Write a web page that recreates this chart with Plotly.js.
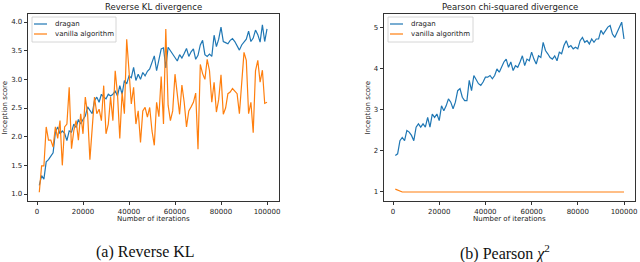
<!DOCTYPE html>
<html><head><meta charset="utf-8">
<script src="https://cdn.plot.ly/plotly-3.0.1.min.js"></script>
<style>html,body{margin:0;padding:0;background:#fff}#chart{width:640px;height:262px}</style>
</head><body><div id="chart"></div>
<script>
const iterations = Array.from({length: 100}, (_, i) => (i + 1) * 1000);
const seriesNames = ['dragan', 'vanilla algorithm'];
const klDragan = [1.15,1.32,1.26,1.56,1.60,1.66,1.72,2.08,2.17,2.05,
 2.10,2.06,1.93,2.10,2.08,2.22,2.16,2.30,2.22,2.30,
 2.36,2.52,2.45,2.40,2.63,2.69,2.60,2.74,2.69,2.66,
 2.74,2.71,2.74,2.80,2.71,2.89,2.74,2.98,2.92,3.06,
 3.03,3.21,2.98,3.09,3.00,3.12,3.06,3.14,3.18,3.30,
 3.41,3.15,3.35,3.53,3.55,3.20,3.56,3.50,3.45,3.38,
 3.32,3.43,3.37,3.45,3.54,3.40,3.48,3.53,3.35,3.42,
 3.60,3.68,3.43,3.40,3.44,3.40,3.77,3.57,3.70,3.91,
 3.66,3.64,3.62,3.68,3.71,3.66,3.58,3.51,3.60,3.66,
 3.70,3.84,3.66,3.72,3.86,3.78,3.65,3.95,3.66,3.88];
const klVanilla = [1.03,1.49,1.49,2.17,1.94,1.94,1.82,2.17,1.97,2.28,
 1.50,2.17,2.22,2.86,1.79,2.10,2.28,1.94,2.40,2.05,
 2.69,2.40,1.60,2.17,2.69,2.40,2.48,2.28,2.89,2.05,
 2.22,2.69,2.28,3.15,2.74,1.97,2.77,2.40,3.70,3.15,
 2.57,2.86,2.22,2.45,1.90,2.45,2.51,2.34,2.51,2.10,
 1.85,2.60,2.35,3.05,2.22,3.88,2.55,2.28,2.45,3.09,
 2.70,2.39,2.90,2.60,2.17,2.45,2.52,2.60,2.76,1.78,
 3.26,3.10,3.00,3.35,3.15,2.60,2.95,2.43,2.65,3.08,
 2.39,2.50,2.75,2.78,2.84,2.80,2.75,2.40,2.90,3.47,
 3.33,2.40,2.60,2.07,3.15,3.33,2.95,3.16,2.58,2.60];
const chiDragan = [1.89,1.93,2.25,2.33,2.25,2.50,2.46,2.38,2.25,2.58,
 2.66,2.58,2.66,2.58,2.82,2.58,2.90,2.82,2.90,2.74,
 3.10,2.98,3.10,3.27,3.19,3.03,3.19,3.47,3.52,3.31,
 3.23,3.23,3.72,3.47,3.84,3.72,3.64,3.60,3.68,3.80,
 3.80,3.84,3.76,3.84,4.00,3.92,4.04,4.17,4.24,4.04,
 4.17,3.96,4.08,4.04,4.17,4.32,4.08,4.24,4.20,4.41,
 4.24,4.12,4.32,4.28,4.65,4.45,4.37,4.28,4.24,4.32,
 4.20,4.41,4.37,4.57,4.69,4.53,4.57,4.49,4.53,4.49,
 4.69,4.77,4.65,4.69,4.61,4.73,4.65,4.73,4.73,4.94,
 4.85,4.94,5.02,5.06,4.85,4.77,4.89,4.98,5.14,4.73];
const chiVanilla = [1.07,1.04,1.03,1.00,1.00,1.00,1.00,1.00,1.00,1.00,
 1.00,1.00,1.00,1.00,1.00,1.00,1.00,1.00,1.00,1.00,
 1.00,1.00,1.00,1.00,1.00,1.00,1.00,1.00,1.00,1.00,
 1.00,1.00,1.00,1.00,1.00,1.00,1.00,1.00,1.00,1.00,
 1.00,1.00,1.00,1.00,1.00,1.00,1.00,1.00,1.00,1.00,
 1.00,1.00,1.00,1.00,1.00,1.00,1.00,1.00,1.00,1.00,
 1.00,1.00,1.00,1.00,1.00,1.00,1.00,1.00,1.00,1.00,
 1.00,1.00,1.00,1.00,1.00,1.00,1.00,1.00,1.00,1.00,
 1.00,1.00,1.00,1.00,1.00,1.00,1.00,1.00,1.00,1.00,
 1.00,1.00,1.00,1.00,1.00,1.00,1.00,1.00,1.00,1.00];
const xTicks = [0, 20000, 40000, 60000, 80000, 100000];
const klTicks = [1.0, 1.5, 2.0, 2.5, 3.0, 3.5, 4.0];
const chiTicks = [1, 2, 3, 4, 5];
const panelTitles = ['Reverse KL divergence', 'Pearson chi-squared divergence'];
const captions = ['(a) Reverse KL', '(b) Pearson <i>χ</i><sup>2</sup>'];
const xTitle = 'Number of iterations';
const yTitle = 'Inception score';

const W = 640, H = 262;
const px = x => x / W;
const py = y => 1 - y / H;
const colors = ['#1f77b4', '#ff7f0e'];
const FONT = 'DejaVu Sans, sans-serif';

const traces = [
  {x: iterations, y: klDragan, name: seriesNames[0], xaxis: 'x', yaxis: 'y'},
  {x: iterations, y: klVanilla, name: seriesNames[1], xaxis: 'x', yaxis: 'y'},
  {x: iterations, y: chiDragan, name: seriesNames[0], xaxis: 'x2', yaxis: 'y2'},
  {x: iterations, y: chiVanilla, name: seriesNames[1], xaxis: 'x2', yaxis: 'y2'}
].map((t, i) => Object.assign(t, {type: 'scatter', mode: 'lines', showlegend: false,
  line: {color: colors[i % 2], width: 1.2}}));

const axBase = {showline: true, mirror: true, linecolor: '#000', linewidth: 0.8,
  ticks: 'outside', ticklen: 3.5, tickwidth: 0.8, tickcolor: '#000',
  showgrid: false, zeroline: false, tickfont: {family: FONT, size: 7, color: '#222'}};

const frames = [[28, 279], [384, 635]];
const yTop = 14, yBot = 201;

const layout = {
  width: W, height: H, margin: {l: 0, r: 0, t: 0, b: 0},
  paper_bgcolor: '#fff', plot_bgcolor: '#fff', showlegend: false,
  xaxis: Object.assign({}, axBase, {domain: [px(frames[0][0]), px(frames[0][1])], range: [-3913, 105217],
    tickvals: xTicks, tickformat: 'd', anchor: 'y'}),
  yaxis: Object.assign({}, axBase, {domain: [py(yBot), py(yTop)], range: [0.878, 4.14],
    tickvals: klTicks, tickformat: '.1f', anchor: 'x'}),
  xaxis2: Object.assign({}, axBase, {domain: [px(frames[1][0]), px(frames[1][1])], range: [-3900, 104760],
    tickvals: xTicks, tickformat: 'd', anchor: 'y2'}),
  yaxis2: Object.assign({}, axBase, {domain: [py(yBot), py(yTop)], range: [0.78, 5.34],
    tickvals: chiTicks, tickformat: 'd', anchor: 'x2'}),
  annotations: [], shapes: []
};

const ann = (text, x, y, opts) => layout.annotations.push(Object.assign({
  text, x: px(x), y: py(y), xref: 'paper', yref: 'paper', showarrow: false,
  xanchor: 'center', yanchor: 'middle', font: {family: FONT, size: 7, color: '#222'}}, opts || {}));

frames.forEach((f, k) => {
  const cx = (f[0] + f[1]) / 2;
  ann(panelTitles[k], cx, 7, {font: {family: FONT, size: 8.5, color: '#222'}});
  ann(xTitle, cx, 219, {font: {family: FONT, size: 7, color: '#222'}});
  ann(yTitle, f[0] - (k === 0 ? 23 : 16), 107.5, {textangle: -90, font: {family: FONT, size: 7, color: '#222'}});
  ann(captions[k], k === 0 ? 145 : 505, 252, {font: {family: 'Liberation Serif, Times New Roman, serif', size: 16, color: '#111'}});
  // legend box
  const lx = f[0] + 4, ly = 17;
  const bw = k === 0 ? 84 : 85;
  layout.shapes.push({type: 'rect', xref: 'paper', yref: 'paper', x0: px(lx), x1: px(lx + bw), y0: py(ly + 25), y1: py(ly),
    line: {color: '#cccccc', width: 0.8}, fillcolor: 'rgba(255,255,255,0.8)', layer: 'above'});
  seriesNames.forEach((n, j) => {
    const yy = 24 + j * 10;
    layout.shapes.push({type: 'line', xref: 'paper', yref: 'paper', x0: px(lx + 2), x1: px(lx + 15), y0: py(yy), y1: py(yy),
      line: {color: colors[j], width: 1.2}, layer: 'above'});
    ann(n, lx + 21, yy, {xanchor: 'left', font: {family: FONT, size: 7, color: '#222'}});
  });
});

Plotly.newPlot('chart', traces, layout, {staticPlot: true, displayModeBar: false});
</script></body></html>
